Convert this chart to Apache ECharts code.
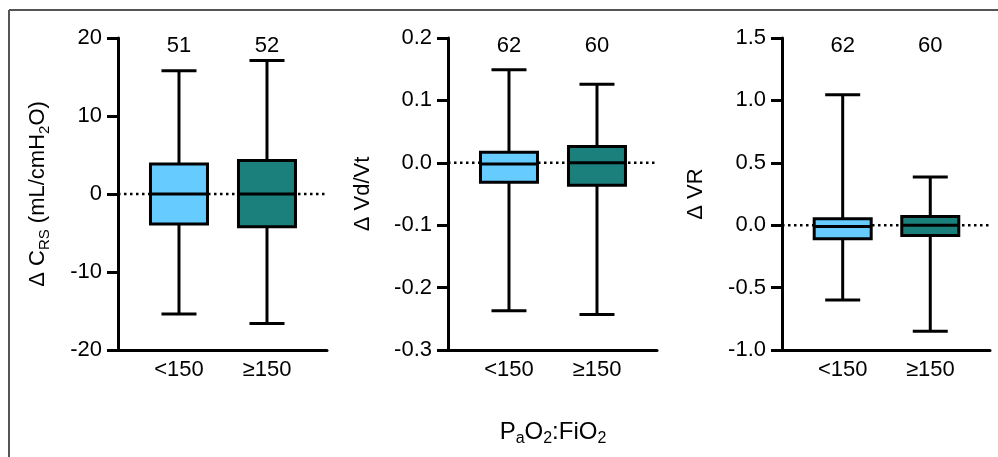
<!DOCTYPE html>
<html>
<head>
<meta charset="utf-8">
<script src="https://cdn.jsdelivr.net/npm/echarts@6/dist/echarts.min.js"></script>
<style>
  html, body { margin: 0; padding: 0; background: #fff; }
  #chart { width: 998px; height: 457px; }
</style>
</head>
<body>
<div id="chart"></div>
<script>
// groups on the x axis
const categories = ['<150', '\u2265150'];
const boxColors = ['#66CCFF', '#1B7F7C'];

// box values: [min, Q1, median, Q3, max]
const crsBoxes = [[-15.4, -3.85, 0, 3.85, 15.8], [-16.6, -4.2, 0, 4.3, 17.1]];
const crsCounts = [51, 52];
const vdvtBoxes = [[-0.237, -0.031, -0.002, 0.017, 0.149], [-0.243, -0.036, 0, 0.026, 0.126]];
const vdvtCounts = [62, 60];
const vrBoxes = [[-0.60, -0.108, -0.01, 0.052, 1.046], [-0.85, -0.082, 0, 0.07, 0.386]];
const vrCounts = [62, 60];

// y axis ranges: [min, max, interval]
const crsRange = [-20, 20, 10];
const vdvtRange = [-0.3, 0.2, 0.1];
const vrRange = [-1.0, 1.5, 0.5];

const FONT = '"Liberation Sans", Arial, sans-serif';
const chart = echarts.init(document.getElementById('chart'));

function boxData(boxes, counts) {
  return boxes.map((b, i) => [i].concat(b, [counts[i]]));
}

function makeRender(yMax) {
  return function (params, api) {
    const i = api.value(0);
    const x = api.coord([i, 0])[0];
    const yMin = api.coord([i, api.value(1)])[1];
    const yQ1 = api.coord([i, api.value(2)])[1];
    const yMed = api.coord([i, api.value(3)])[1];
    const yQ3 = api.coord([i, api.value(4)])[1];
    const yHi = api.coord([i, api.value(5)])[1];
    const yTop = api.coord([i, yMax])[1];
    const bw = 57, cw = 35;
    const ln = { stroke: '#000', lineWidth: 3 };
    const children = [];
    if (params.dataIndex === 0) {
      // dotted zero line, drawn first so the boxes cover it
      const cs = params.coordSys;
      const y0 = api.coord([0, 0])[1];
      children.push({
        type: 'line',
        shape: { x1: cs.x, y1: y0, x2: cs.x + cs.width, y2: y0 },
        style: { stroke: '#000', lineWidth: 2.5, lineDash: [2.5, 3.5] }
      });
    }
    children.push(
      { type: 'line', shape: { x1: x, y1: yHi, x2: x, y2: yMin }, style: ln },
      { type: 'line', shape: { x1: x - cw / 2, y1: yHi, x2: x + cw / 2, y2: yHi }, style: ln },
      { type: 'line', shape: { x1: x - cw / 2, y1: yMin, x2: x + cw / 2, y2: yMin }, style: ln },
      { type: 'rect', shape: { x: x - bw / 2, y: yQ3, width: bw, height: yQ1 - yQ3 },
        style: { fill: boxColors[i], stroke: '#000', lineWidth: 3 } },
      { type: 'line', shape: { x1: x - bw / 2, y1: yMed, x2: x + bw / 2, y2: yMed }, style: ln },
      { type: 'text', style: { text: String(api.value(6)), x: x, y: yTop + 8,
        align: 'center', verticalAlign: 'middle', font: '22px ' + FONT, fill: '#000' } }
    );
    return { type: 'group', children: children };
  };
}

const richName = {
  n: { fontSize: 22, fontFamily: FONT, color: '#000' },
  s: { fontSize: 15, fontFamily: FONT, color: '#000', padding: [13, 0, 0, 0] }
};
const richTitle = {
  n: { fontSize: 24, fontFamily: FONT, color: '#000' },
  s: { fontSize: 16, fontFamily: FONT, color: '#000', padding: [14, 0, 0, 0] }
};

function xAxisFor(idx) {
  return {
    type: 'value', gridIndex: idx, min: -0.693, max: 1.682,
    axisLine: { show: true, onZero: false, lineStyle: { color: '#000', width: 3 } },
    axisTick: { show: false },
    splitLine: { show: false },
    axisLabel: {
      customValues: [0, 1],
      formatter: v => categories[Math.round(v)],
      fontSize: 22, fontFamily: FONT, color: '#000', margin: 9
    }
  };
}

function yAxisFor(idx, range, name, gap, digits) {
  return {
    type: 'value', gridIndex: idx, min: range[0], max: range[1], interval: range[2],
    name: name, nameLocation: 'middle', nameRotate: 90, nameGap: gap,
    nameTextStyle: { fontSize: 22, fontFamily: FONT, color: '#000', rich: richName },
    axisLine: { show: true, onZero: false, lineStyle: { color: '#000', width: 3 } },
    axisTick: { show: true, length: 11, lineStyle: { color: '#000', width: 3 } },
    splitLine: { show: false },
    axisLabel: {
      formatter: v => v.toFixed(digits),
      fontSize: 22, fontFamily: FONT, color: '#000', margin: 16
    }
  };
}

chart.setOption({
  animation: false,
  grid: [
    { left: 118, top: 38, width: 209, height: 312 },
    { left: 448, top: 38, width: 209, height: 312 },
    { left: 782, top: 38, width: 208, height: 312 }
  ],
  xAxis: [xAxisFor(0), xAxisFor(1), xAxisFor(2)],
  yAxis: [
    yAxisFor(0, crsRange, '{n|\u0394 C}{s|RS}{n| (mL/cmH}{s|2}{n|O)}', 66, 0),
    yAxisFor(1, vdvtRange, '{n|\u0394 Vd/Vt}', 74, 1),
    yAxisFor(2, vrRange, '{n|\u0394 VR}', 75, 1)
  ],
  series: [
    { type: 'custom', xAxisIndex: 0, yAxisIndex: 0, renderItem: makeRender(crsRange[1]),
      data: boxData(crsBoxes, crsCounts), encode: { x: 0, y: [1, 5] } },
    { type: 'custom', xAxisIndex: 1, yAxisIndex: 1, renderItem: makeRender(vdvtRange[1]),
      data: boxData(vdvtBoxes, vdvtCounts), encode: { x: 0, y: [1, 5] } },
    { type: 'custom', xAxisIndex: 2, yAxisIndex: 2, renderItem: makeRender(vrRange[1]),
      data: boxData(vrBoxes, vrCounts), encode: { x: 0, y: [1, 5] } }
  ],
  graphic: [
    { type: 'line', shape: { x1: 9, y1: 10, x2: 998, y2: 10 }, style: { stroke: '#555', lineWidth: 2 } },
    { type: 'line', shape: { x1: 9, y1: 10, x2: 9, y2: 457 }, style: { stroke: '#555', lineWidth: 2 } },
    {
      type: 'text', x: 553, y: 432,
      style: {
        text: '{n|P}{s|a}{n|O}{s|2}{n|:FiO}{s|2}',
        align: 'center', verticalAlign: 'middle',
        rich: richTitle
      }
    }
  ]
});
</script>
</body>
</html>
